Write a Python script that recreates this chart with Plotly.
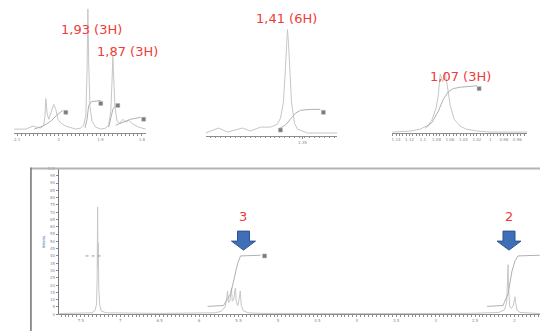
import plotly.graph_objects as go

W, H = 540, 333

# ---------------- main spectrum (ppm / relative intensity) ----------------
main_ppm = [7.77, 7.45, 7.36, 7.32, 7.30, 7.293, 7.287, 7.282, 7.278, 7.272, 7.26, 7.24, 7.18, 6.50,
            5.95, 5.80, 5.72, 5.67, 5.65, 5.639, 5.628, 5.61, 5.595, 5.589, 5.58, 5.56, 5.545, 5.538,
            5.53, 5.51, 5.49, 5.478, 5.465, 5.44, 5.38, 5.20, 4.00, 2.60, 2.20, 2.13, 2.10, 2.088,
            2.082, 2.076, 2.06, 2.04, 2.015, 2.003, 1.994, 1.986, 1.97, 1.93, 1.80, 1.68]
main_int = [0.5, 0.6, 1.0, 2.5, 7, 25, 73.6, 32, 49, 18, 6, 2.2, 1.0, 0.6,
            0.7, 1.0, 2.0, 5, 11, 16, 8, 9, 16, 18, 9, 10, 17, 18,
            9, 6, 11, 16, 6, 2.5, 1.0, 0.6, 0.5, 0.6, 1.2, 3, 8, 20,
            34, 18, 5, 4, 6, 10, 12, 8, 3, 1.2, 0.6, 0.5]
main_integ3_ppm = [5.892, 5.69, 5.60, 5.563, 5.513, 5.475, 5.22]
main_integ3_val = [5.4, 6, 14, 23, 34.5, 40, 40.5]
main_integ2_ppm = [2.348, 2.146, 2.082, 2.032, 1.994, 1.956, 1.68]
main_integ2_val = [5.4, 6, 14, 29.7, 36.5, 40, 40.5]
main_integS_ppm = [7.44, 7.21]
main_integS_val = [40, 40]
main_integ_label_ppm = [5.17]
main_integ_label_val = [40]
main_peak_ppm = [7.285, 5.639, 5.589, 5.538, 5.475, 2.082, 1.994]
main_xticks = [7.5, 7.0, 6.5, 6.0, 5.5, 5.0, 4.5, 4.0, 3.5, 3.0, 2.5, 2.0]
arrow_ppm = [5.437, 2.07]
arrow_tip_val = [44, 44]
arrow_labels = ["3", "2"]
arrow_label_val = [67, 67]

# ---------------- inset 1 (1.93 / 1.87 ppm) ----------------
ins1_ppm = [2.107, 2.079, 2.062, 2.052, 2.043, 2.036, 2.033, 2.031, 2.028, 2.024, 2.019, 2.012, 2.007,
            2.002, 1.995, 1.983, 1.959, 1.947, 1.940, 1.935, 1.932, 1.930, 1.928, 1.925, 1.920, 1.911,
            1.899, 1.887, 1.880, 1.875, 1.872, 1.870, 1.868, 1.865, 1.860, 1.853, 1.846, 1.839, 1.832,
            1.825, 1.817, 1.808, 1.791]
ins1_int = [3.0, 3.0, 5.3, 4.5, 3.8, 6.1, 12.9, 26.5, 15.2, 10.6, 15.2, 22.0, 18.2,
            10.6, 7.6, 5.3, 3.0, 3.8, 6.1, 12.9, 47, 95.5, 54.5, 20.5, 9.1, 4.5,
            3.0, 3.8, 6.1, 16.7, 39.4, 59.8, 43.2, 20.5, 9.1, 7.6, 10.6, 8.3, 9.8,
            7.6, 6.1, 4.5, 3.0]
ins1_integ_a_ppm = [2.059, 2.038, 2.019, 2.005, 1.990]
ins1_integ_a_val = [3.0, 5.3, 9.1, 13.6, 17.4]
ins1_integ_b_ppm = [1.937, 1.932, 1.928, 1.921, 1.899]
ins1_integ_b_val = [3.8, 10.6, 21.2, 24.2, 25.0]
ins1_integ_c_ppm = [1.880, 1.875, 1.870, 1.865, 1.860]
ins1_integ_c_val = [4.5, 10.6, 18.2, 20.5, 21.2]
ins1_integ_d_ppm = [1.863, 1.846, 1.827, 1.803]
ins1_integ_d_val = [6.1, 8.3, 10.6, 12.1]
ins1_label_ppm = [1.983, 1.899, 1.858, 1.796]
ins1_label_val = [15.9, 22.7, 21.2, 10.6]
ins1_peak_ppm = [2.057, 2.031, 2.012, 1.990, 1.930, 1.875, 1.858, 1.846, 1.834, 1.822, 1.810]
ins1_xticks = [2.1, 2.0, 1.9, 1.8]

# ---------------- inset 2 (1.41 ppm) ----------------
ins2_ppm = [1.738, 1.686, 1.650, 1.590, 1.558, 1.518, 1.478, 1.450, 1.438, 1.426, 1.418, 1.414,
            1.410, 1.406, 1.402, 1.394, 1.382, 1.370, 1.330, 1.210]
ins2_int = [2.5, 6.7, 3.3, 6.7, 4.2, 7.5, 7.5, 10, 15, 29, 58, 79,
            90, 79, 58, 29, 10.8, 5.8, 2.5, 2.5]
ins2_integ_ppm = [1.446, 1.418, 1.398, 1.378, 1.358, 1.318, 1.278]
ins2_integ_val = [5.8, 9.2, 14.2, 19.2, 21.7, 22.5, 22.5]
ins2_label_ppm = [1.438, 1.266]
ins2_label_val = [5.0, 20.0]
ins2_peak_ppm = [1.686, 1.590, 1.510, 1.410]
ins2_xticks = [1.35]

# ---------------- inset 3 (1.07 ppm) ----------------
ins3_ppm = [1.1456, 1.1189, 1.104, 1.092, 1.0863, 1.0804, 1.0774, 1.0744, 1.0707, 1.067, 1.0626,
            1.0596, 1.0537, 1.0448, 1.036, 1.0196, 1.0004, 0.9456]
ins3_int = [1.2, 2.4, 4.9, 9.8, 17, 31.7, 46, 73, 63.4, 75.6, 51,
            34, 17, 8.5, 4.9, 2.4, 1.2, 1.2]
ins3_integ_ppm = [1.0967, 1.0863, 1.0774, 1.07, 1.0626, 1.0552, 1.0448, 1.0196]
ins3_integ_val = [6, 13.4, 26.8, 41.5, 51, 55, 56.7, 58.5]
ins3_label_ppm = [1.0167]
ins3_label_val = [55]
ins3_peak_ppm = [1.07]
ins3_xticks = [1.14, 1.12, 1.10, 1.08, 1.06, 1.04, 1.02, 1.00, 0.98, 0.96]

# ---------------- peak annotations ----------------
shift_labels = ["1,93 (3H)", "1,87 (3H)", "1,41 (6H)", "1,07 (3H)"]
shift_label_axes = ["2", "2", "3", "4"]
shift_label_ppm = [1.921, 1.834, 1.412, 1.0448]
shift_label_val = [79.5, 62.5, 99.5, 70]

# ---------------- styling ----------------
SPEC = "#c6c6c6"
INTEG = "#b0b0b0"
RED = "#f23a3a"
BLUE = "#3f6fb6"
FONT = "DejaVu Sans"


def px_dom_x(a, b):
    return [a / W, b / W]


def px_dom_y(bottom, top):
    return [(H - bottom) / H, (H - top) / H]


fig = go.Figure()


def line(x, y, ax, color=SPEC, width=1, dash=None):
    fig.add_trace(go.Scatter(x=x, y=y, mode="lines", xaxis="x" + ax, yaxis="y" + ax,
                             line=dict(color=color, width=width, dash=dash),
                             hoverinfo="skip", showlegend=False))


def peak_marks(ppm, ax, ytick, ylab):
    fig.add_trace(go.Scatter(x=ppm, y=[ytick] * len(ppm), mode="markers", xaxis="x" + ax,
                             yaxis="y" + ax, cliponaxis=False,
                             marker=dict(symbol="line-ns", size=5,
                                         line=dict(color="#555555", width=1)),
                             hoverinfo="skip", showlegend=False))
    fig.add_trace(go.Scatter(x=ppm, y=[ylab] * len(ppm), mode="markers", xaxis="x" + ax,
                             yaxis="y" + ax, cliponaxis=False,
                             marker=dict(symbol="square", size=3.5, color="#8a7a5a"),
                             hoverinfo="skip", showlegend=False))


def int_labels(ppm, val, ax):
    fig.add_trace(go.Scatter(x=ppm, y=val, mode="markers", xaxis="x" + ax, yaxis="y" + ax,
                             cliponaxis=False,
                             marker=dict(symbol="square", size=4, color="#7a7a7a",
                                         line=dict(color="#bbbbbb", width=0.5)),
                             hoverinfo="skip", showlegend=False))


# main panel (axis suffix "")
line(main_ppm, main_int, "")
line(main_integ3_ppm, main_integ3_val, "", INTEG)
line(main_integ2_ppm, main_integ2_val, "", INTEG)
line(main_integS_ppm, main_integS_val, "", "#999999", 1, "dot")
int_labels(main_integ_label_ppm, main_integ_label_val, "")
peak_marks(main_peak_ppm, "", -3.4, -8.1)

# inset 1
line(ins1_ppm, ins1_int, "2")
for xs, ys in [(ins1_integ_a_ppm, ins1_integ_a_val), (ins1_integ_b_ppm, ins1_integ_b_val),
               (ins1_integ_c_ppm, ins1_integ_c_val), (ins1_integ_d_ppm, ins1_integ_d_val)]:
    line(xs, ys, "2", INTEG)
int_labels(ins1_label_ppm, ins1_label_val, "2")
peak_marks(ins1_peak_ppm, "2", -5.3, -10.6)

# inset 2
line(ins2_ppm, ins2_int, "3")
line(ins2_integ_ppm, ins2_integ_val, "3", INTEG)
int_labels(ins2_label_ppm, ins2_label_val, "3")
peak_marks(ins2_peak_ppm, "3", -5.8, -10.8)

# inset 3
line(ins3_ppm, ins3_int, "4")
line(ins3_integ_ppm, ins3_integ_val, "4", INTEG)
int_labels(ins3_label_ppm, ins3_label_val, "4")
peak_marks(ins3_peak_ppm, "4", -8.5, -18.3)

tickfont = dict(family=FONT, size=4, color="#7d8aa0")


def xax(dom, rng, ticks, minor_dtick):
    return dict(domain=dom, range=rng, showgrid=False, zeroline=False, showline=True,
                linecolor="#8c8c8c", linewidth=1, ticks="outside", ticklen=2,
                tickcolor="#8c8c8c", tickvals=ticks, tickfont=tickfont,
                minor=dict(dtick=minor_dtick, ticks="outside", ticklen=1.5, tickcolor="#8c8c8c"),
                fixedrange=True)


def yax(dom, anchor, visible=False):
    d = dict(domain=dom, range=[0, 100], showgrid=False, zeroline=False, anchor=anchor,
             visible=visible, fixedrange=True)
    return d


fig.update_layout(
    width=W, height=H, margin=dict(l=0, r=0, t=0, b=0),
    paper_bgcolor="white", plot_bgcolor="white", showlegend=False,
    font=dict(family=FONT),
    xaxis=xax(px_dom_x(58, 540), [7.778, 1.677], main_xticks, 0.05),
    yaxis=dict(domain=px_dom_y(316, 168), range=[0, 100], showgrid=False, zeroline=False,
               showline=True, linecolor="#7a7a7a", linewidth=1, ticks="outside", ticklen=2,
               tickcolor="#8c8c8c", dtick=5, tickfont=tickfont, fixedrange=True,
               title=dict(text="Intens.", font=dict(family=FONT, size=4, color="#4a6fa8"),
                          standoff=2)),
    xaxis2=xax(px_dom_x(13, 145), [2.1075, 1.791], ins1_xticks, 0.01),
    yaxis2=yax(px_dom_y(132, 0), "x2"),
    xaxis3=xax(px_dom_x(205, 337), [1.738, 1.21], ins2_xticks, 0.02),
    yaxis3=yax(px_dom_y(135, 15), "x3"),
    xaxis4=xax(px_dom_x(392, 527), [1.1456, 0.9456], ins3_xticks, 0.005),
    yaxis4=yax(px_dom_y(132, 50), "x4"),
)
fig.layout.xaxis2.anchor = "y2"
fig.layout.xaxis3.anchor = "y3"
fig.layout.xaxis4.anchor = "y4"

# frame lines of the lower panel
fig.add_shape(type="line", xref="paper", yref="paper", x0=30 / W, x1=1, y0=(H - 168) / H,
              y1=(H - 168) / H, line=dict(color="#b4b4b4", width=2))
fig.add_shape(type="line", xref="paper", yref="paper", x0=30 / W, x1=30 / W, y0=0,
              y1=(H - 167) / H, line=dict(color="#707070", width=1.5))

# block arrows + labels
for p, v, lab, lv in zip(arrow_ppm, arrow_tip_val, arrow_labels, arrow_label_val):
    fig.add_shape(type="path", xref="x", yref="y", xsizemode="pixel", ysizemode="pixel",
                  xanchor=p, yanchor=v,
                  path="M -6,19 L 6,19 L 6,9 L 12,9 L 0,0 L -12,9 L -6,9 Z",
                  fillcolor=BLUE, line=dict(color="#2f528f", width=1))
    fig.add_annotation(x=p, y=lv, xref="x", yref="y", text=lab, showarrow=False,
                       font=dict(family=FONT, size=13, color=RED))

for t, ax, p, v in zip(shift_labels, shift_label_axes, shift_label_ppm, shift_label_val):
    fig.add_annotation(x=p, y=v, xref="x" + ax, yref="y" + ax, text=t, showarrow=False,
                       font=dict(family=FONT, size=13, color=RED))

fig.write_html("out.html", config={"displayModeBar": False},
               post_script="document.body.style.margin='0';document.body.style.overflow='hidden';")
